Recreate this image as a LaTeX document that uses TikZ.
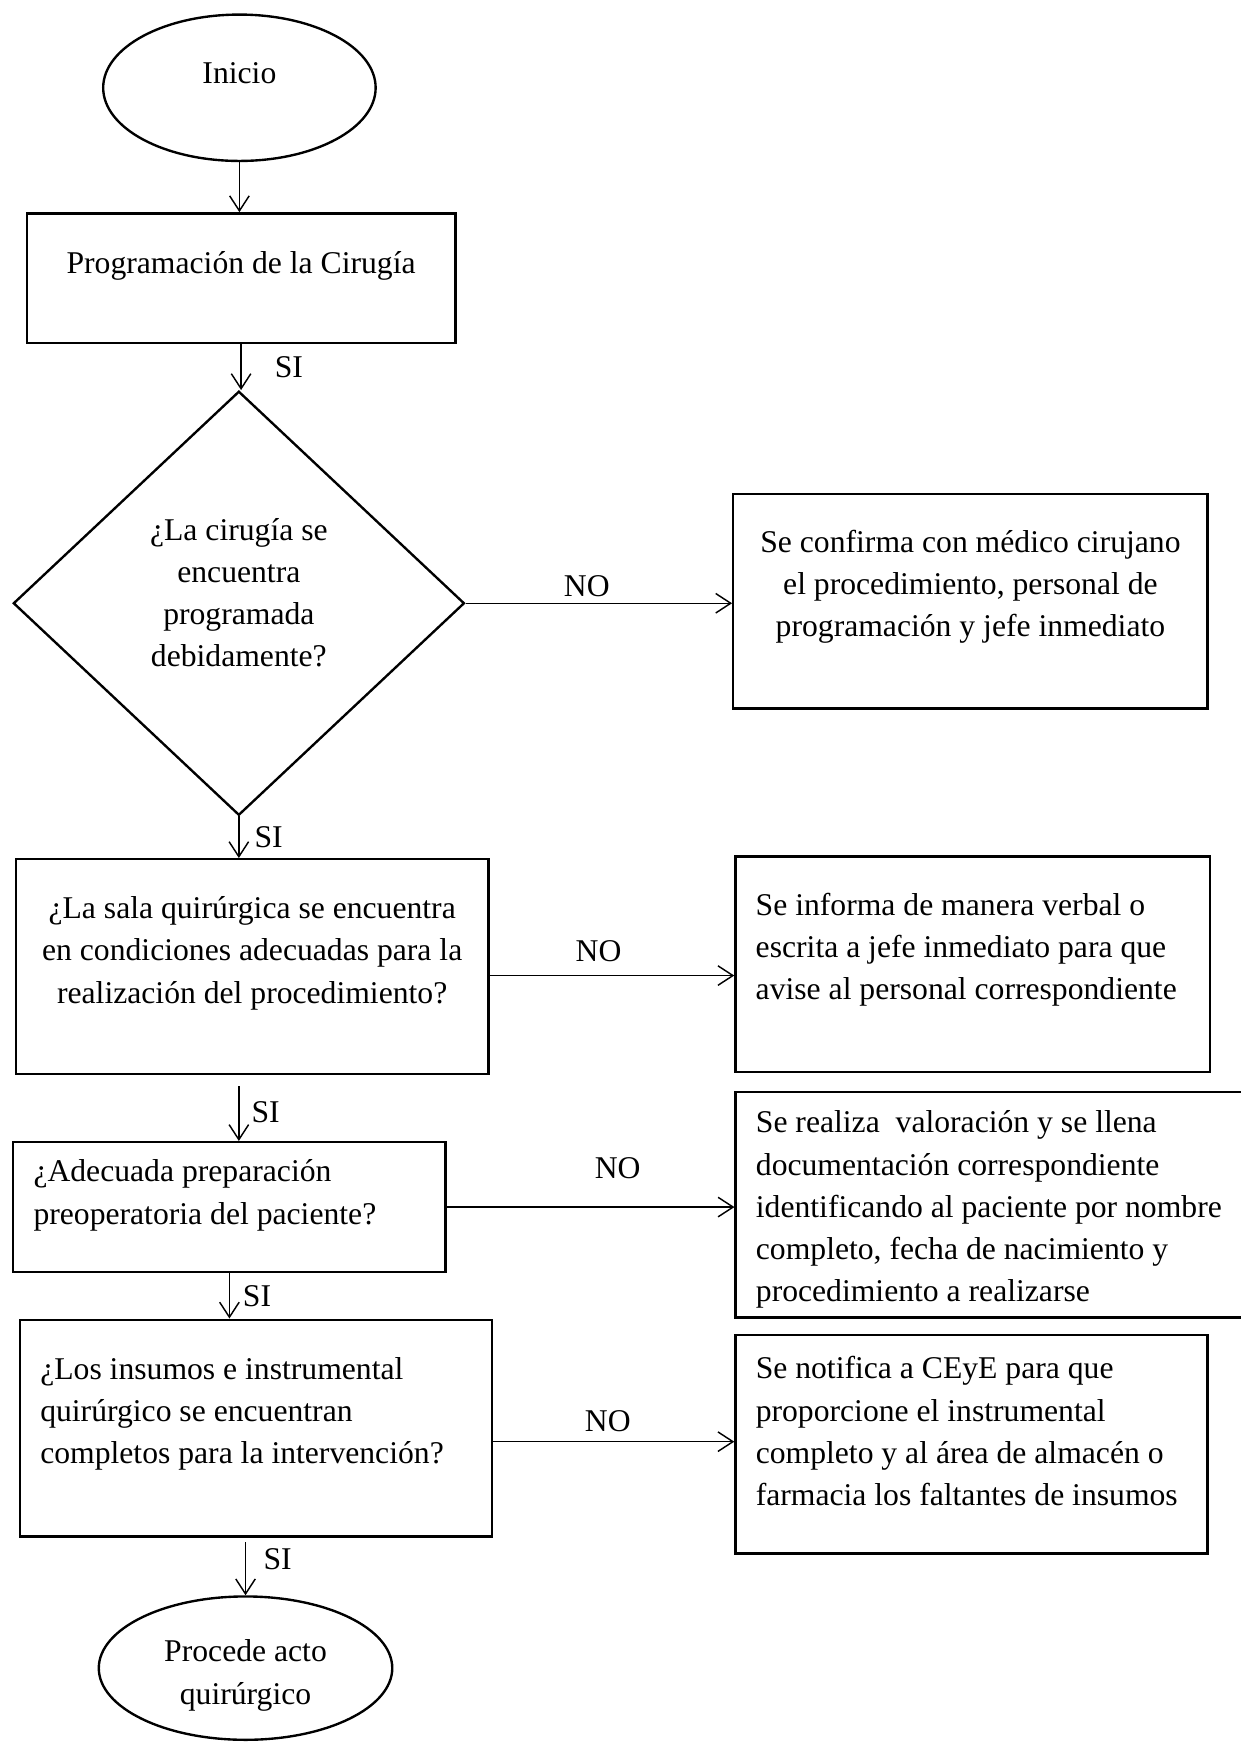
\documentclass[tikz,border=0pt]{standalone}
\usepackage{fontspec}
\setmainfont{Liberation Serif}
\usepackage{tikz}
\usetikzlibrary{arrows.meta,shapes.geometric,positioning}

\begin{document}
\begin{tikzpicture}
	[x=0.0148cm, y=-0.0148cm, font=\fontsize{12}{16}\selectfont,
	box/.style		= {rectangle, draw, line width=0.9pt, inner sep=0.1cm, align=center},
	note/.style		= {box, align=flush left, inner xsep=0.27cm},
	terminal/.style	= {ellipse, draw, line width=0.9pt, inner sep=0pt, align=center},
	decision/.style	= {diamond, draw, line width=0.9pt, inner sep=0pt, align=center},
	paths/.style	= {-{Straight Barb[length=2mm, width=2.6mm]}, line width=0.55pt},
	answer/.style	= {inner sep=0pt}]
	
	\useasboundingbox (0, 0) rectangle (1117, 1568);
	
	\node at (215.5, 79)	[terminal, minimum width=3.63cm, minimum height=1.95cm, text depth=0.385cm]	(inicio)	{Inicio};
	\node at (217, 250.5)	[box, minimum width=5.71cm, minimum height=1.73cm, text depth=0.43cm]	(prog)	{Programación de la Cirugía};
	\node at (215, 543)		[decision, minimum width=6.01cm, minimum height=5.65cm, text depth=0.29cm]	(decision)	{¿La cirugía se\\encuentra\\programada\\debidamente?};
	\node at (227, 870)		[box, minimum width=6.3cm, minimum height=2.86cm, text depth=0.445cm]	(sala)	{¿La sala quirúrgica se encuentra\\en condiciones adecuadas para la\\realización del procedimiento?};
	\node at (206.5, 1086.5)	[note, minimum width=5.76cm, minimum height=1.73cm, text width=5.22cm, text depth=0.965cm]	(prep)	{¿Adecuada preparación\\preoperatoria del paciente?};
	\node at (230.5, 1285.5)	[note, minimum width=6.29cm, minimum height=2.89cm, text width=5.75cm, text depth=1.59cm]	(insumos)	{¿Los insumos e instrumental\\quirúrgico se encuentran\\completos para la intervención?};
	\node at (221, 1501.5)	[terminal, minimum width=3.91cm, minimum height=1.91cm, text height=1.05cm]	(procede)	{Procede acto\\quirúrgico};
	
	\node at (873.5, 541)	[box, minimum width=6.32cm, minimum height=2.86cm, text depth=0.475cm]	(conf)	{Se confirma con médico cirujano\\el procedimiento, personal de\\programación y jefe inmediato};
	\node at (875.5, 868)	[note, minimum width=6.32cm, minimum height=2.87cm, text width=5.78cm, text depth=1.6cm]	(inform)	{Se informa de manera verbal o\\escrita a jefe inmediato para que\\avise al personal correspondiente};
	\node at (901, 1084.5)	[note, minimum width=7.07cm, minimum height=3cm, text width=6.53cm, text depth=2.21cm]	(valor)	{Se realiza\ \ valoración y se llena\\documentación correspondiente\\identificando al paciente por nombre\\completo, fecha de nacimiento y\\procedimiento a realizarse};
	\node at (874.5, 1300)	[note, minimum width=6.29cm, minimum height=2.91cm, text width=5.75cm, text depth=2.04cm]	(notif)	{Se notifica a CEyE para que\\proporcione el instrumental\\completo y al área de almacén o\\farmacia los faltantes de insumos};
	
	\draw [paths] (inicio.south) -- (inicio.south |- prog.north);
	\draw [paths] (prog.south) -- (prog.south |- decision.north) node [answer, midway, right=0.44cm] {SI};
	\draw [paths] (decision.east) -- (decision.east -| conf.west) node [answer, midway, above=0.08cm, xshift=-0.16cm] {NO};
	\draw [paths] (decision.south) -- (decision.south |- sala.north) node [answer, midway, right=0.2cm] {SI};
	\draw [paths] ([yshift=-0.12cm]sala.east) -- ([yshift=-0.12cm]sala.east -| inform.west) node [answer, midway, above=0.17cm, xshift=-0.18cm] {NO};
	\draw [paths, shorten <=0.15cm] (sala.south -| decision.south) -- (prep.north -| decision.south) node [answer, midway, right=0.16cm, yshift=-0.05cm] {SI};
	\draw [paths] (prep.east) -- (prep.east -| valor.west) node [answer, midway, above=0.37cm, xshift=0.36cm] {NO};
	\draw [paths] (prep.south) -- (prep.south |- insumos.north) node [answer, midway, right=0.17cm] {SI};
	\draw [paths] ([yshift=-0.18cm]insumos.east) -- ([yshift=-0.18cm]insumos.east -| notif.west) node [answer, midway, above=0.12cm, xshift=-0.08cm] {NO};
	\draw [paths, shorten <=0.06cm] (insumos.south -| procede.north) -- (procede.north) node [answer, midway, right=0.23cm, yshift=0.1cm] {SI};
\end{tikzpicture}
\end{document}
